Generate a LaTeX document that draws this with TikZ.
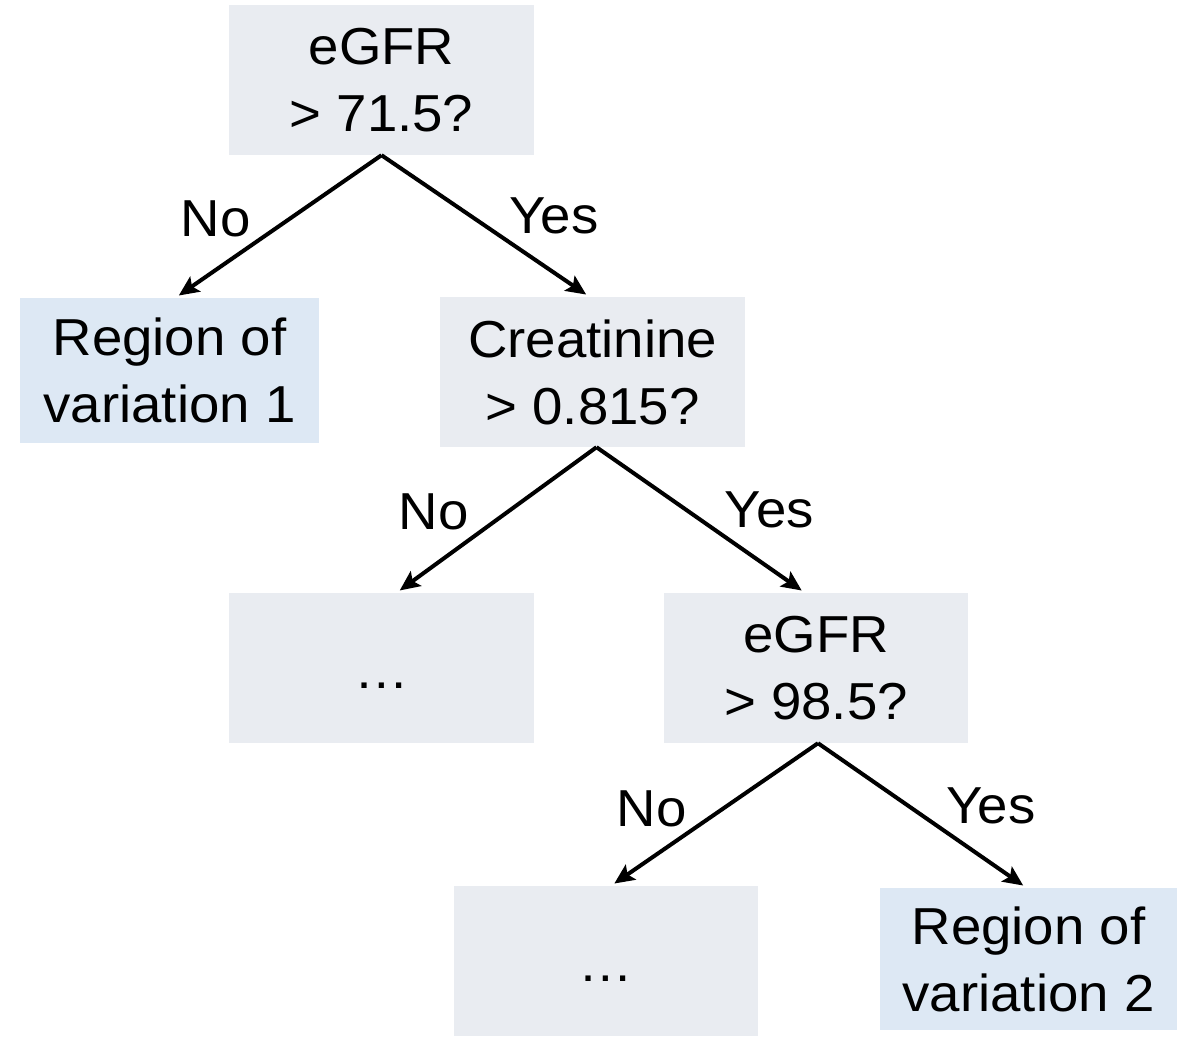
\documentclass[tikz,border=0pt]{standalone}
\usepackage{fontspec}
\setmainfont[FakeStretch=1.05]{Liberation Sans}
\usetikzlibrary{arrows.meta}

\definecolor{testgray}{HTML}{E9ECF1}
\definecolor{leafblue}{HTML}{DDE8F4}

\tikzset{
    testbox/.style={fill=testgray, minimum width=305pt, minimum height=150pt, align=center, inner sep=0pt},
    leafbox/.style={fill=leafblue, minimum width=299pt, minimum height=145pt, align=center, inner sep=0pt},
    branch/.style={-{Stealth[length=20pt,width=18pt,inset=4pt]}, line width=4pt, shorten >=4pt},
    answer/.style={inner sep=0pt}
}

\begin{document}
\begin{tikzpicture}[x=1pt,y=-1pt,font=\fontsize{52}{67}\selectfont]
    \useasboundingbox (0,0) rectangle (1177,1061);
    % decision nodes and leaves
    \node[testbox] (root) at (381.5,80) {eGFR\\> 71.5?};
    \node[leafbox] (leafa) at (169.5,370.5) {Region of\\variation 1};
    \node[testbox] (creat) at (592.5,372) {Creatinine\\> 0.815?};
    \node[testbox] (restA) at (381.5,668) {\rule{0pt}{40pt}…};
    \node[testbox, minimum width=304pt] (egfrb) at (816,668) {eGFR\\> 98.5?};
    \node[testbox, minimum width=304pt] (restB) at (606,961) {\rule{0pt}{40pt}…};
    \node[leafbox, minimum width=297pt, minimum height=142pt] (leafb) at (1028.5,959) {Region of\\variation 2};
    % branches
    \draw[branch] (root.south) -- ([xshift=6pt]leafa.north) node[answer, midway, anchor=east, xshift=-26pt, yshift=8pt] {No};
    \draw[branch] (root.south) -- ([xshift=-3pt]creat.north) node[answer, midway, anchor=west, xshift=22pt, yshift=10pt] {Yes};
    \draw[branch] ([xshift=4pt]creat.south) -- ([xshift=15pt]restA.north) node[answer, midway, anchor=east, xshift=-26pt, yshift=8pt] {No};
    \draw[branch] ([xshift=4pt]creat.south) -- ([xshift=-11pt]egfrb.north) node[answer, midway, anchor=west, xshift=22pt, yshift=10pt] {Yes};
    \draw[branch] ([xshift=2pt]egfrb.south) -- ([xshift=5pt]restB.north) node[answer, midway, anchor=east, xshift=-26pt, yshift=6pt] {No};
    \draw[branch] ([xshift=2pt]egfrb.south) -- ([xshift=-2pt]leafb.north) node[answer, midway, anchor=west, xshift=22pt, yshift=10pt] {Yes};
\end{tikzpicture}
\end{document}
